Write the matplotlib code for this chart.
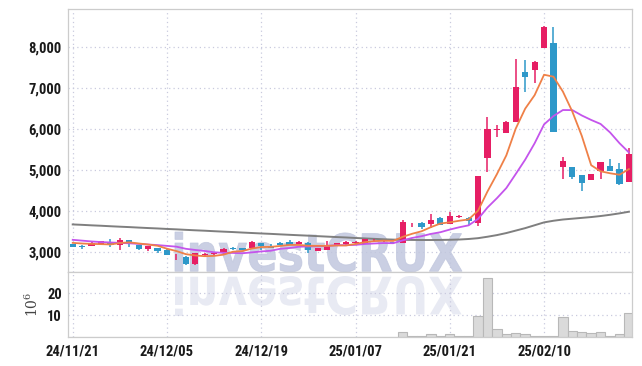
import os
import matplotlib
matplotlib.use('Agg')
import matplotlib.pyplot as plt
from matplotlib.ticker import FuncFormatter
from matplotlib.textpath import TextPath
from matplotlib.patches import PathPatch
from matplotlib.font_manager import FontProperties
from matplotlib.transforms import Affine2D

plt.rcParams['font.family'] = ['Roboto Condensed', 'DejaVu Sans']
plt.rcParams['font.weight'] = 'black'

# daily candles, 24/11/21 .. 25/02/21 (trading days)
opens = [3200, 3150, 3160, 3200, 3245, 3185, 3290, 3180, 3080, 3105,
         3065, 2925, 2895, 2710, 2935, 2960, 2975, 3105, 3100, 3110,
         3225, 3160, 3235, 3260, 3205, 3235, 3025, 3065, 3160, 3195,
         3225, 3210, 3290, 3265, 3255, 3235, 3680, 3720, 3685, 3845,
         3685, 3870, 3845, 3710, 5295, 5990, 5920, 6185, 7400, 7445,
         7990, 8110, 5090, 5080, 4885, 4765, 4990, 5105, 5025, 4720]
highs = [3215, 3185, 3255, 3280, 3320, 3345, 3295, 3190, 3150, 3110,
         3070, 2950, 2905, 2990, 2975, 2990, 3095, 3130, 3110, 3265,
         3235, 3200, 3260, 3300, 3265, 3240, 3110, 3270, 3235, 3265,
         3265, 3330, 3330, 3300, 3260, 3780, 3710, 3730, 3935, 3860,
         3980, 3910, 3850, 4870, 6310, 6100, 6200, 7710, 7690, 7660,
         8510, 8500, 5335, 5085, 4890, 4920, 5210, 5270, 5170, 5540]
lows = [3120, 3090, 3150, 3195, 3120, 3065, 3140, 3050, 3030, 2975,
        2935, 2810, 2700, 2700, 2920, 2940, 2970, 3065, 3050, 3105,
        3060, 3110, 3175, 3180, 3200, 2995, 3020, 3060, 3155, 3190,
        3200, 3205, 3260, 3250, 3195, 3230, 3620, 3560, 3590, 3660,
        3680, 3830, 3665, 3640, 4965, 5810, 5910, 6180, 6915, 7120,
        7985, 5940, 4780, 4780, 4500, 4760, 4795, 4980, 4640, 4715]
closes = [3130, 3135, 3230, 3275, 3190, 3300, 3225, 3090, 3145, 3040,
          2940, 2940, 2710, 2985, 2955, 2975, 3090, 3070, 3060, 3260,
          3160, 3115, 3180, 3185, 3260, 3060, 3105, 3180, 3230, 3260,
          3245, 3325, 3305, 3285, 3225, 3745, 3700, 3610, 3790, 3665,
          3895, 3890, 3770, 4860, 6005, 6010, 6180, 7040, 7285, 7650,
          8500, 5940, 5225, 4845, 4700, 4910, 5200, 4985, 4665, 5390]
volume = [0.25, 0.2, 0.2, 0.25, 0.2, 0.3, 0.2, 0.2, 0.15, 0.2,
          0.25, 0.2, 0.35, 0.3, 0.2, 0.15, 0.2, 0.15, 0.15, 0.25,
          0.2, 0.15, 0.15, 0.15, 0.2, 0.25, 0.15, 0.2, 0.15, 0.2,
          0.15, 0.2, 0.2, 0.15, 0.2, 2.3, 0.5, 0.5, 1.4, 0.5,
          1.4, 0.5, 0.5, 9.5, 26.8, 3.6, 1.4, 1.8, 1.4, 0.7,
          0.7, 0.7, 9.1, 2.7, 2.3, 1.8, 2.3, 0.7, 1.4, 10.9]

# moving average lines
ma_short = [3230, 3215, 3205, 3200, 3192, 3226, 3244, 3216, 3190, 3160,
            3088, 3031, 2955, 2923, 2906, 2913, 2943, 3015, 3030, 3091,
            3128, 3133, 3155, 3180, 3180, 3160, 3158, 3158, 3167, 3167,
            3204, 3248, 3273, 3284, 3277, 3377, 3452, 3513, 3614, 3702,
            3732, 3770, 3802, 4016, 4484, 4907, 5365, 6019, 6504, 6833,
            7331, 7283, 6920, 6432, 5842, 5124, 4976, 4928, 4892, 5030]
ma_mid = [3305, 3285, 3265, 3250, 3240, 3230, 3220, 3205, 3190, 3176,
          3157, 3138, 3086, 3057, 3033, 3001, 2987, 2985, 2977, 2999,
          3021, 3038, 3085, 3105, 3136, 3144, 3146, 3157, 3174, 3174,
          3182, 3203, 3216, 3226, 3222, 3291, 3350, 3393, 3449, 3490,
          3555, 3611, 3658, 3815, 4093, 4320, 4568, 4911, 5260, 5659,
          6119, 6324, 6470, 6468, 6338, 6228, 6130, 5924, 5662, 5436]
ma_long = [3680, 3670, 3658, 3648, 3636, 3625, 3615, 3603, 3592, 3582,
           3570, 3560, 3548, 3537, 3527, 3515, 3504, 3494, 3482, 3471,
           3460, 3450, 3438, 3427, 3416, 3406, 3394, 3383, 3372, 3362,
           3350, 3339, 3328, 3318, 3310, 3305, 3302, 3300, 3300, 3302,
           3306, 3312, 3325, 3345, 3380, 3420, 3470, 3530, 3590, 3660,
           3730, 3770, 3800, 3820, 3840, 3860, 3885, 3915, 3950, 3990]

tick_pos = [0, 10, 20, 30, 40, 50]
tick_labels = ['24/11/21', '24/12/05', '24/12/19', '25/01/07', '25/01/21', '25/02/10']

up_color = '#e61e64'
down_color = '#2e98c9'
grid_color = '#c9cade'
spine_color = '#cccccc'

W, H = 642, 366
fig = plt.figure(figsize=(W / 100, H / 100), dpi=100)
ax = fig.add_axes([68 / W, 1 - 272 / H, (632 - 68) / W, (272 - 9) / H])
axv = fig.add_axes([68 / W, 1 - 337.3 / H, (632 - 68) / W, (337.3 - 272) / H], sharex=ax)

x = list(range(len(closes)))

# watermark and its reflection
wm_font = os.path.join(matplotlib.get_data_path(), 'fonts', 'ttf', 'DejaVuSans-Bold.ttf')
tp = TextPath((0, 0), 'investCRUX', size=100, prop=FontProperties(fname=wm_font))
bb = tp.get_extents()
wm_x0, wm_w, wm_h = 175, 287, 40
base = (Affine2D().translate(-bb.x0, -bb.y0)
        .scale(wm_w / bb.width, wm_h / bb.height))
t_main = base + Affine2D().translate(wm_x0, H - 272).scale(1 / 100) + fig.dpi_scale_trans
t_refl = (base + Affine2D().scale(1, -1).translate(wm_x0, H - 276).scale(1 / 100)
          + fig.dpi_scale_trans)
ax.add_patch(PathPatch(tp, transform=t_main, facecolor='#c1c7de', edgecolor='#c1c7de',
                       lw=0.6, alpha=0.85, zorder=1.5))
axv.add_patch(PathPatch(tp, transform=t_refl, facecolor='#e8eaf3', edgecolor='none',
                        zorder=0.5))

# candles
for i in x:
    o, c = opens[i], closes[i]
    col = up_color if c >= o else down_color
    ax.vlines(i, lows[i], highs[i], color=col, lw=1.1, zorder=3)
    body = max(abs(c - o), 14)
    ax.bar(i, body, bottom=min(o, c) - (body - abs(c - o)) / 2, width=0.66,
           color=col, zorder=3)

ax.plot(x, ma_long, color='#7f7f7f', lw=1.4, zorder=2)
ax.plot(x, ma_mid, color='#c454ec', lw=1.3, zorder=4)
ax.plot(x, ma_short, color='#ef8047', lw=1.3, zorder=4)

axv.bar(x, volume, width=1.0, color='#dadada', edgecolor='#b8b8b8', lw=0.8, zorder=2)

ax.set_xlim(-0.5, 59.33)
ax.set_ylim(2520, 8934)
axv.set_ylim(0, 29.7)

ax.set_yticks([3000, 4000, 5000, 6000, 7000, 8000])
ax.yaxis.set_major_formatter(FuncFormatter(lambda v, p: '{:,.0f}'.format(v)))
axv.set_yticks([10, 20])
axv.set_xticks(tick_pos)
axv.set_xticklabels(tick_labels)
axv.set_ylabel(r'$\mathregular{10^6}$', family='DejaVu Serif', fontsize=10,
               color='#444444', fontweight='normal', labelpad=4)

for a in (ax, axv):
    a.grid(True, ls=(0, (1, 2.5)), color=grid_color, lw=0.9, zorder=0)
    a.set_axisbelow(True)
    a.tick_params(length=0, pad=4.5, labelsize=10.5, colors='#1a1a1a')
    for s in a.spines.values():
        s.set_color(spine_color)
        s.set_linewidth(0.9)
ax.tick_params(labelbottom=False)
axv.tick_params(axis='x', pad=5)

fig.savefig('out.png', dpi=100)
